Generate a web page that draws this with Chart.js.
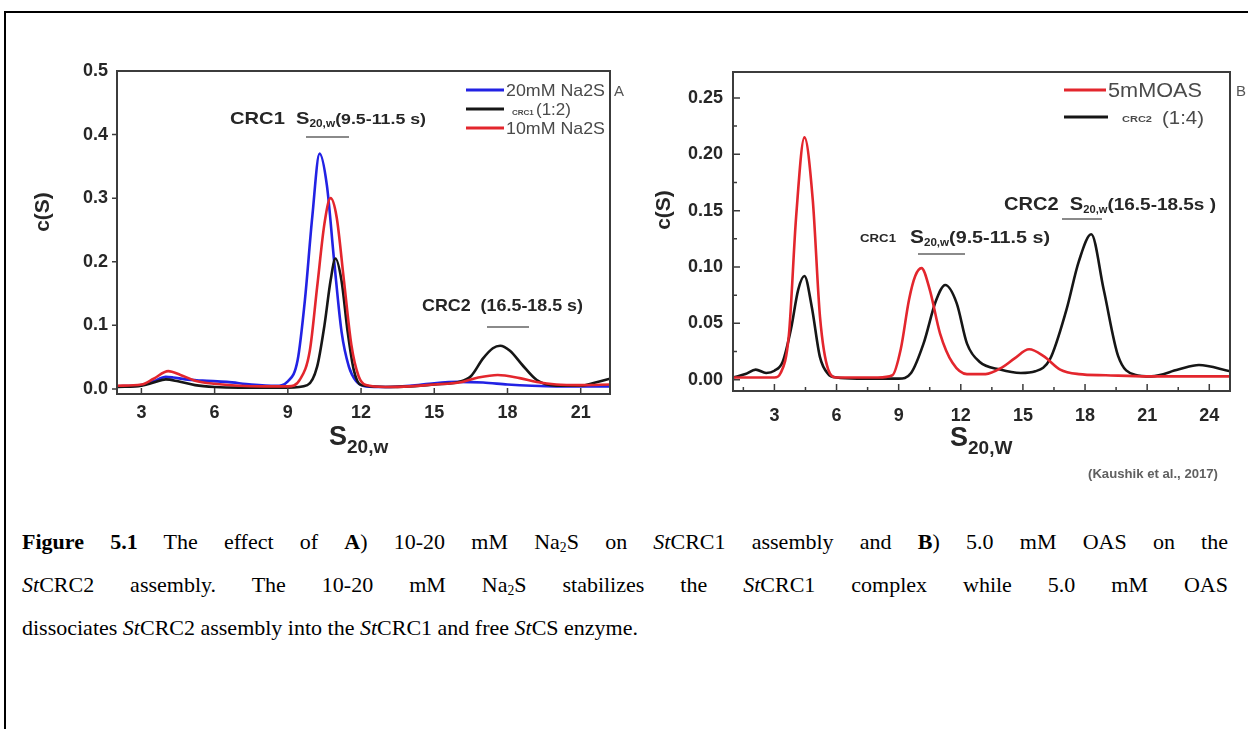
<!DOCTYPE html>
<html>
<head>
<meta charset="utf-8">
<script src="https://cdn.jsdelivr.net/npm/chart.js@4.4.1/dist/chart.umd.min.js"></script>
<style>
  html, body { margin: 0; padding: 0; background: #fff; }
  body { width: 1248px; height: 729px; position: relative; overflow: hidden; }
  #frame { position: absolute; left: 4px; top: 11px; width: 1260px; height: 740px;
           border-left: 2px solid #000; border-top: 2px solid #000; }
  canvas { position: absolute; top: 0; }
  #cA { left: 0; }
  #cB { left: 640px; }
  .cap { position: absolute; left: 22px; width: 1206px; height: 43px; line-height: 43px;
         font-family: "Liberation Serif", "Times New Roman", serif; font-size: 22px; color: #000;
         white-space: nowrap; }
  .just { text-align: justify; text-align-last: justify; }
  .cap sub { font-size: 0.62em; vertical-align: -0.2em; line-height: 0; }
</style>
</head>
<body>
<div id="frame"></div>
<canvas id="cA" width="640" height="500"></canvas>
<canvas id="cB" width="608" height="500"></canvas>
<div class="cap just" style="top:520px"><b>Figure 5.1</b> The effect of <b>A</b>) 10-20 mM Na<sub>2</sub>S on <i>St</i>CRC1 assembly and <b>B</b>) 5.0 mM OAS on the</div>
<div class="cap just" style="top:563px"><i>St</i>CRC2 assembly. The 10-20 mM Na<sub>2</sub>S stabilizes the <i>St</i>CRC1 complex while 5.0 mM OAS</div>
<div class="cap" style="top:606px">dissociates <i>St</i>CRC2 assembly into the <i>St</i>CRC1 and free <i>St</i>CS enzyme.</div>
<script>
(function () {
  "use strict";

  // ---------- Panel A data (c(S) vs S20,w, Na2S) ----------
  var xTicksA = [3, 6, 9, 12, 15, 18, 21];
  var yTicksA = [0, 0.1, 0.2, 0.3, 0.4, 0.5];

  var blueAX = [2, 3, 3.5, 4, 4.3, 4.8, 5.5, 6.5, 7.5, 8.5, 9.0, 9.4, 9.7, 10.0, 10.3, 10.6, 10.9, 11.2, 11.5, 11.8, 12.2, 13, 14, 15, 16, 17, 18, 19, 20, 21, 22.2];
  var blueAY = [0.004, 0.006, 0.012, 0.019, 0.018, 0.015, 0.013, 0.011, 0.007, 0.005, 0.012, 0.045, 0.14, 0.27, 0.37, 0.32, 0.2, 0.09, 0.035, 0.012, 0.004, 0.003, 0.005, 0.009, 0.011, 0.01, 0.007, 0.005, 0.004, 0.004, 0.004];

  var blackAX = [2, 3, 3.5, 4, 4.5, 5.2, 6, 7, 8, 9, 9.8, 10.2, 10.5, 10.75, 10.95, 11.2, 11.45, 11.7, 12.0, 13, 14, 15, 16, 16.5, 17.0, 17.4, 17.7, 18.1, 18.6, 19.2, 20, 21, 21.6, 22.2];
  var blackAY = [0.003, 0.005, 0.01, 0.015, 0.012, 0.006, 0.003, 0.002, 0.002, 0.002, 0.006, 0.035, 0.1, 0.17, 0.205, 0.17, 0.09, 0.03, 0.006, 0.003, 0.004, 0.007, 0.011, 0.02, 0.048, 0.064, 0.068, 0.06, 0.038, 0.014, 0.005, 0.005, 0.01, 0.016];

  var redAX = [2, 3, 3.5, 4.1, 4.6, 5.2, 6, 7, 8, 9, 9.5, 9.9, 10.2, 10.5, 10.75, 11.0, 11.3, 11.6, 11.9, 12.2, 13, 14, 15, 16, 16.8, 17.6, 18.5, 19.2, 20, 21, 22.2];
  var redAY = [0.005, 0.007, 0.016, 0.028, 0.022, 0.013, 0.008, 0.005, 0.004, 0.004, 0.015, 0.06, 0.16, 0.26, 0.3, 0.27, 0.17, 0.07, 0.02, 0.006, 0.003, 0.004, 0.007, 0.01, 0.018, 0.022, 0.017, 0.011, 0.007, 0.006, 0.007];

  // ---------- Panel B data (c(S) vs S20,W, OAS) ----------
  var xTicksB = [3, 6, 9, 12, 15, 18, 21, 24];
  var xMinorB = [1.5, 4.5, 7.5, 10.5, 13.5, 16.5, 19.5, 22.5];
  var yTicksB = [0, 0.05, 0.1, 0.15, 0.2, 0.25];
  var yMinorB = [0.025, 0.075, 0.125, 0.175, 0.225];

  var redBX = [1, 2, 3, 3.3, 3.7, 4.05, 4.45, 4.85, 5.2, 5.6, 6, 7, 8, 8.7, 9.1, 9.5, 9.8, 10.1, 10.5, 11.0, 11.6, 12.3, 13.2, 14, 14.6, 15.3, 16, 16.8, 17.7, 19, 21, 23, 25];
  var redBY = [0.002, 0.002, 0.002, 0.006, 0.04, 0.145, 0.215, 0.16, 0.056, 0.009, 0.002, 0.002, 0.002, 0.004, 0.027, 0.071, 0.092, 0.099, 0.08, 0.041, 0.015, 0.005, 0.005, 0.011, 0.019, 0.027, 0.021, 0.009, 0.005, 0.004, 0.003, 0.003, 0.003];

  var blackBX = [1, 1.6, 2.1, 2.6, 3.0, 3.4, 3.8, 4.15, 4.45, 4.8, 5.2, 5.6, 6, 7, 8, 9, 9.6, 10.2, 10.8, 11.25, 11.8, 12.3, 12.9, 13.9, 14.9, 15.6, 16.3, 17.1, 17.7, 18.3, 18.9, 19.6, 20.4, 21.2, 22.5, 23.5, 25];
  var blackBY = [0.002, 0.005, 0.009, 0.006, 0.008, 0.016, 0.045, 0.08, 0.092, 0.065, 0.02, 0.005, 0.002, 0.001, 0.001, 0.001, 0.006, 0.032, 0.07, 0.084, 0.068, 0.032, 0.016, 0.009, 0.006, 0.0075, 0.018, 0.062, 0.105, 0.129, 0.08, 0.021, 0.0045, 0.003, 0.009, 0.013, 0.0075];

  // ---------- Style ----------
  var SANS = '"Liberation Sans", Arial, Helvetica, sans-serif';
  var BLUE = "#2222e4";
  var RED = "#e3262d";
  var BLACK = "#161616";
  var AXIS = "#3c3c3c";
  var TXT = "#262626";
  var H = 500; // canvas height

  function pts(xs, ys) {
    return xs.map(function (x, i) { return { x: x, y: ys[i] }; });
  }

  // Draws a run of text pieces (for subscripts), optionally squeezed to a width.
  function drawRich(ctx, segs, x, y, fitW, color) {
    ctx.save();
    var w = 0;
    segs.forEach(function (s) { ctx.font = s.f; w += ctx.measureText(s.t).width; });
    var k = fitW ? fitW / w : 1;
    ctx.translate(x, y);
    ctx.scale(k, 1);
    ctx.fillStyle = color || TXT;
    ctx.textAlign = "left";
    ctx.textBaseline = "alphabetic";
    var cx = 0;
    segs.forEach(function (s) {
      ctx.font = s.f;
      ctx.fillText(s.t, cx, s.dy || 0);
      cx += ctx.measureText(s.t).width;
    });
    ctx.restore();
  }

  function hline(ctx, x1, x2, y, color, w) {
    ctx.save();
    ctx.strokeStyle = color;
    ctx.lineWidth = w;
    ctx.beginPath();
    ctx.moveTo(x1, y);
    ctx.lineTo(x2, y);
    ctx.stroke();
    ctx.restore();
  }

  function drawBox(chart) {
    var a = chart.chartArea, ctx = chart.ctx;
    ctx.save();
    ctx.strokeStyle = AXIS;
    ctx.lineWidth = 2;
    ctx.strokeRect(a.left, a.top, a.right - a.left, a.bottom - a.top);
    ctx.restore();
  }

  // tick marks: x ticks point up into the plot, y ticks go ylen from the left axis
  function drawTicks(chart, xs, xlen, ys, ylen) {
    var a = chart.chartArea, ctx = chart.ctx;
    var sx = chart.scales.x, sy = chart.scales.y;
    ctx.save();
    ctx.strokeStyle = AXIS;
    ctx.lineWidth = 1.5;
    ctx.beginPath();
    xs.forEach(function (v) {
      var p = sx.getPixelForValue(v);
      ctx.moveTo(p, a.bottom);
      ctx.lineTo(p, a.bottom - xlen);
    });
    ys.forEach(function (v) {
      var p = sy.getPixelForValue(v);
      ctx.moveTo(a.left, p);
      ctx.lineTo(a.left + ylen, p);
    });
    ctx.stroke();
    ctx.restore();
  }

  function yTitle(ctx, x, y) {
    ctx.save();
    ctx.translate(x, y);
    ctx.rotate(-Math.PI / 2);
    ctx.fillStyle = TXT;
    ctx.font = "bold 21px " + SANS;
    ctx.textAlign = "center";
    ctx.textBaseline = "middle";
    ctx.fillText("c(S)", 0, 0);
    ctx.restore();
  }

  function baseOptions(pad, xmin, xmax, ymin, ymax, xTicks, yTicks, xPad, yPad, yDigits) {
    return {
      responsive: false,
      animation: false,
      layout: { padding: pad },
      elements: {
        point: { radius: 0 },
        line: { borderWidth: 2.6, cubicInterpolationMode: "monotone" },
      },
      plugins: { legend: { display: false }, tooltip: { enabled: false } },
      scales: {
        x: {
          type: "linear", min: xmin, max: xmax,
          grid: { display: false, drawTicks: false },
          border: { display: false },
          ticks: { padding: xPad, autoSkip: false, maxRotation: 0, color: TXT,
                   font: { family: SANS, size: 18, weight: "bold" } },
          afterBuildTicks: function (s) { s.ticks = xTicks.map(function (v) { return { value: v }; }); },
          afterFit: function (s) { s.height = 40; },
        },
        y: {
          type: "linear", min: ymin, max: ymax,
          grid: { display: false, drawTicks: false },
          border: { display: false },
          ticks: { padding: yPad, autoSkip: false, color: TXT,
                   font: { family: SANS, size: 18, weight: "bold" },
                   callback: function (v) { return Number(v).toFixed(yDigits); } },
          afterBuildTicks: function (s) { s.ticks = yTicks.map(function (v) { return { value: v }; }); },
          afterFit: function (s) { s.width = 50; },
        },
      },
    };
  }

  // ---------- Panel A ----------
  var decorA = {
    id: "decorA",
    afterDatasetsDraw: function (chart) {
      var ctx = chart.ctx;
      drawBox(chart);
      drawTicks(chart, xTicksA, 6, yTicksA.slice(0, 5), -5);

      // legend
      [[BLUE, 96], [BLACK, 115], [RED, 134]].forEach(function (r) {
        hline(ctx, 466, 504, r[1] - 6, r[0], 3);
      });
      var lf = "17px " + SANS;
      drawRich(ctx, [{ t: "20mM Na2S", f: lf }], 506, 96, 99, "#4a4a4a");
      drawRich(ctx, [{ t: "CRC1 ", f: "bold 8px " + SANS }, { t: "(1:2)", f: lf }], 512, 115, 0, "#4a4a4a");
      drawRich(ctx, [{ t: "10mM Na2S", f: lf }], 506, 134, 99, "#4a4a4a");
      drawRich(ctx, [{ t: "A", f: "15px " + SANS }], 614, 96, 0, "#555");

      // annotations
      var bf = "bold 17px " + SANS;
      drawRich(ctx, [
        { t: "CRC1  ", f: bf },
        { t: "S", f: bf },
        { t: "20,w", f: "bold 10px " + SANS, dy: 3 },
        { t: "(9.5-11.5 s)", f: "bold 15px " + SANS },
      ], 230, 124, 196);
      hline(ctx, 306, 349, 137, "#8a8a8a", 2);
      drawRich(ctx, [{ t: "CRC2  (16.5-18.5 s)", f: bf }], 422, 311, 161);
      hline(ctx, 487, 529, 327, "#8a8a8a", 2);

      // axis titles
      yTitle(ctx, 43, 212);
      drawRich(ctx, [
        { t: "S", f: "bold 27px " + SANS },
        { t: "20,w", f: "bold 19px " + SANS, dy: 8 },
      ], 329, 445, 0);
    },
  };

  var optsA = baseOptions({ left: 117 - 50, top: 71, right: 640 - 610, bottom: H - 394 - 40 },
    2, 22.2, -0.008, 0.5, xTicksA, yTicksA, 8, 9, 1);
  new Chart(document.getElementById("cA"), {
    type: "line",
    data: {
      datasets: [
        { label: "20mM Na2S", data: pts(blueAX, blueAY), borderColor: BLUE, order: 2 },
        { label: "CRC1 (1:2)", data: pts(blackAX, blackAY), borderColor: BLACK, order: 1 },
        { label: "10mM Na2S", data: pts(redAX, redAY), borderColor: RED, order: 0 },
      ],
    },
    options: optsA,
    plugins: [decorA],
  });

  // ---------- Panel B (canvas starts at page x = 640) ----------
  var OX = 640;
  var decorB = {
    id: "decorB",
    afterDatasetsDraw: function (chart) {
      var ctx = chart.ctx;
      drawBox(chart);
      drawTicks(chart, xTicksB, 7, yTicksB, 7);
      drawTicks(chart, xMinorB, 4, yMinorB, 4);

      // legend
      hline(ctx, 1064 - OX, 1106 - OX, 90, RED, 3);
      hline(ctx, 1064 - OX, 1108 - OX, 117, BLACK, 3);
      drawRich(ctx, [{ t: "5mMOAS", f: "20px " + SANS }], 1108 - OX, 97, 94, "#4a4a4a");
      drawRich(ctx, [{ t: "CRC2", f: "bold 9px " + SANS }], 1122 - OX, 122, 30, "#4a4a4a");
      drawRich(ctx, [{ t: "(1:4)", f: "18px " + SANS }], 1162 - OX, 124, 42, "#4a4a4a");
      drawRich(ctx, [{ t: "B", f: "15px " + SANS }], 1236 - OX, 96, 0, "#555");

      // annotations
      var bf = "bold 18px " + SANS;
      drawRich(ctx, [
        { t: "CRC2  ", f: bf },
        { t: "S", f: bf },
        { t: "20,w", f: "bold 10px " + SANS, dy: 3 },
        { t: "(16.5-18.5s )", f: "bold 17px " + SANS },
      ], 1004 - OX, 210, 212);
      hline(ctx, 1062 - OX, 1102 - OX, 219, "#8a8a8a", 2);
      drawRich(ctx, [{ t: "CRC1", f: "bold 10px " + SANS }], 860 - OX, 242, 36);
      drawRich(ctx, [
        { t: "S", f: bf },
        { t: "20,w", f: "bold 10px " + SANS, dy: 3 },
        { t: "(9.5-11.5 s)", f: "bold 17px " + SANS },
      ], 910 - OX, 243, 140);
      hline(ctx, 918 - OX, 965 - OX, 254, "#8a8a8a", 2);

      // axis titles
      yTitle(ctx, 664 - OX, 210);
      drawRich(ctx, [
        { t: "S", f: "bold 27px " + SANS },
        { t: "20,W", f: "bold 19px " + SANS, dy: 8 },
      ], 950 - OX, 446, 0);

      drawRich(ctx, [{ t: "(Kaushik et al., 2017)", f: "bold 13px " + SANS }], 1088 - OX, 478, 130, "#606060");
    },
  };

  var optsB = baseOptions({ left: 733 - OX - 50, top: 72, right: 608 - (1230 - OX), bottom: H - 391 - 40 },
    1, 25, -0.01, 0.273, xTicksB, yTicksB, 14, 10, 2);
  new Chart(document.getElementById("cB"), {
    type: "line",
    data: {
      datasets: [
        { label: "5mMOAS", data: pts(redBX, redBY), borderColor: RED, order: 0 },
        { label: "CRC2 (1:4)", data: pts(blackBX, blackBY), borderColor: BLACK, order: 1 },
      ],
    },
    options: optsB,
    plugins: [decorB],
  });
})();
</script>
</body>
</html>
